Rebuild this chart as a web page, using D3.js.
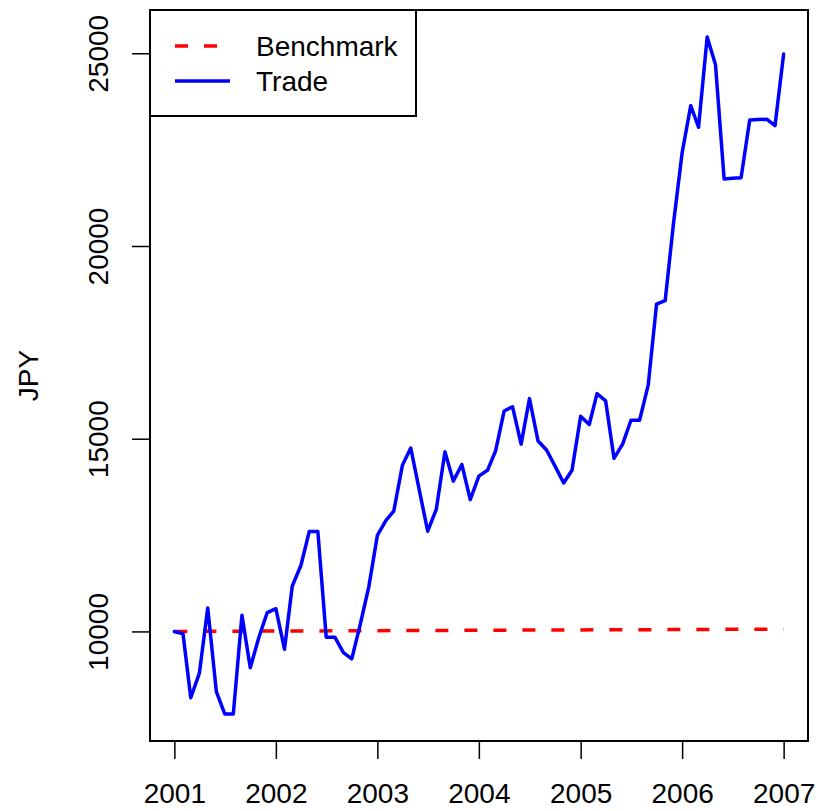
<!DOCTYPE html>
<html>
<head>
<meta charset="utf-8">
<script src="https://cdn.jsdelivr.net/npm/d3@7"></script>
<style>
  body { margin: 0; background: #fff; }
  svg text { font-family: "Liberation Sans", Arial, sans-serif; font-size: 28px; fill: #000; }
</style>
</head>
<body>
<div id="chart"></div>
<script>
// monthly trade equity, Jan 2001 .. Jan 2007 (JPY)
const tradeValues = [
  10000, 9940, 8280, 8920, 10610, 8440, 7860, 7860, 10420, 9060, 9850, 10490,
  10590, 9540, 11180, 11710, 12590, 12590, 9850, 9850, 9450, 9290, 10200, 11150,
  12490, 12880, 13120, 14310, 14760, 13660, 12600, 13170, 14660, 13900, 14330, 13420,
  14030, 14180, 14680, 15720, 15830, 14860, 16040, 14940, 14700, 14290, 13850, 14180,
  15580, 15370, 16170, 15980, 14490, 14860, 15480, 15480, 16390, 18490, 18580, 20590,
  22420, 23640, 23080, 25420, 24700, 21740, 21760, 21770, 23270, 23280, 23290, 23120,
  24980
];
// benchmark, read at each year start
const benchmarkYears = [2001, 2002, 2003, 2004, 2005, 2006, 2007];
const benchmarkValues = [10000, 10010, 10020, 10030, 10040, 10050, 10060];

const xTickYears = [2001, 2002, 2003, 2004, 2005, 2006, 2007];
const yTickValues = [10000, 15000, 20000, 25000];
const legendLabels = ["Benchmark", "Trade"];
const yLabel = "JPY";

class EquityPlot {

    constructor(element) {
        this.element = element;
        this.months = d3.utcMonth.range(new Date(Date.UTC(2001, 0, 1)), new Date(Date.UTC(2007, 0, 2)));
        this.trade = tradeValues.map((v, i) => ({date: this.months[i], value: v}));
        this.bench = benchmarkValues.map((v, i) => ({date: new Date(Date.UTC(benchmarkYears[i], 0, 1)), value: v}));
        this.draw();
    }

    draw() {
        this.width = 821;
        this.height = 811;
        // plot box like R's default
        this.box = {left: 150, right: 808, top: 10, bottom: 741};

        this.element.innerHTML = '';
        this.svg = d3.select(this.element).append('svg')
            .attr('width', this.width)
            .attr('height', this.height);

        this.createScales();
        this.addLines();
        this.addAxes();
        this.addLegend();
    }

    createScales() {
        // R pads the data range by 4% on each side
        const xExt = d3.extent(this.months);
        const xPad = (xExt[1] - xExt[0]) * 0.04;
        this.xScale = d3.scaleUtc()
            .domain([new Date(+xExt[0] - xPad), new Date(+xExt[1] + xPad)])
            .range([this.box.left, this.box.right]);

        const yExt = d3.extent(tradeValues);
        const yPad = (yExt[1] - yExt[0]) * 0.04;
        this.yScale = d3.scaleLinear()
            .domain([yExt[0] - yPad, yExt[1] + yPad])
            .range([this.box.bottom, this.box.top]);
    }

    addAxes() {
        const b = this.box;

        const xAxis = d3.axisBottom(this.xScale)
            .tickValues(xTickYears.map(y => new Date(Date.UTC(y, 0, 1))))
            .tickFormat(d3.utcFormat('%Y'))
            .tickSize(18)
            .tickSizeOuter(0)
            .tickPadding(24);

        const gx = this.svg.append('g')
            .attr('transform', `translate(0,${b.bottom})`)
            .call(xAxis);
        gx.select('.domain').remove();
        gx.selectAll('line').attr('stroke', '#000').attr('stroke-width', 1.5);
        gx.selectAll('text').attr('font-size', null).attr('font-family', null);
        gx.attr('font-size', null).attr('font-family', null);

        const yAxis = d3.axisLeft(this.yScale)
            .tickValues(yTickValues)
            .tickFormat(d3.format('d'))
            .tickSize(18)
            .tickSizeOuter(0);

        const gy = this.svg.append('g')
            .attr('transform', `translate(${b.left},0)`)
            .call(yAxis);
        gy.select('.domain').remove();
        gy.selectAll('line').attr('stroke', '#000').attr('stroke-width', 1.5);
        gy.attr('font-size', null).attr('font-family', null);
        // R draws y labels parallel to the axis
        gy.selectAll('text')
            .attr('transform', 'rotate(-90)')
            .attr('x', 0)
            .attr('y', -42)
            .attr('dy', 0)
            .style('text-anchor', 'middle');

        this.svg.append('text')
            .attr('transform', `translate(38,${(b.top + b.bottom) / 2}) rotate(-90)`)
            .style('text-anchor', 'middle')
            .text(yLabel);

        // box round the plot
        this.svg.append('rect')
            .attr('x', b.left)
            .attr('y', b.top)
            .attr('width', b.right - b.left)
            .attr('height', b.bottom - b.top)
            .attr('fill', 'none')
            .attr('stroke', '#000')
            .attr('stroke-width', 2);
    }

    addLines() {
        const line = d3.line()
            .x(d => this.xScale(d.date))
            .y(d => this.yScale(d.value));

        this.svg.append('path')
            .datum(this.bench)
            .attr('d', line)
            .attr('fill', 'none')
            .attr('stroke', '#ff0000')
            .attr('stroke-width', 3.5)
            .attr('stroke-dasharray', '13,16');

        this.svg.append('path')
            .datum(this.trade)
            .attr('d', line)
            .attr('fill', 'none')
            .attr('stroke', '#0000ff')
            .attr('stroke-width', 3.5)
            .attr('stroke-linejoin', 'round')
            .attr('stroke-linecap', 'round');
    }

    addLegend() {
        const g = this.svg.append('g');
        g.append('rect')
            .attr('x', 150)
            .attr('y', 10)
            .attr('width', 266)
            .attr('height', 106)
            .attr('fill', '#fff')
            .attr('stroke', '#000')
            .attr('stroke-width', 2);

        const styles = [
            {color: '#ff0000', dash: '13,16'},
            {color: '#0000ff', dash: null}
        ];
        legendLabels.forEach((label, i) => {
            const y = 46 + i * 35;
            g.append('line')
                .attr('x1', 175).attr('x2', 230)
                .attr('y1', y).attr('y2', y)
                .attr('stroke', styles[i].color)
                .attr('stroke-width', 3.5)
                .attr('stroke-dasharray', styles[i].dash);
            g.append('text')
                .attr('x', 256)
                .attr('y', y)
                .attr('dy', '0.35em')
                .text(label);
        });
    }
}

new EquityPlot(document.getElementById('chart'));
</script>
</body>
</html>
